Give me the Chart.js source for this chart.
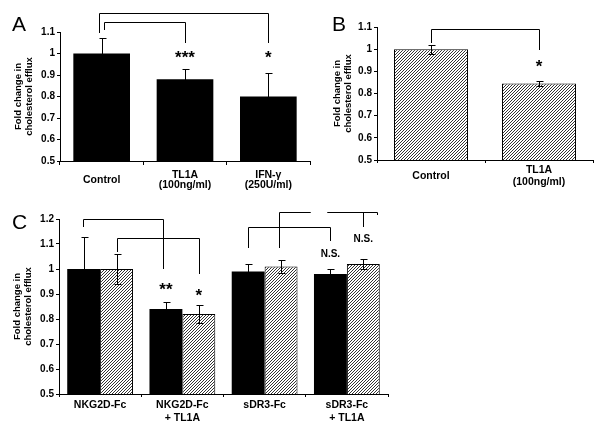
<!DOCTYPE html>
<html>
<head>
<meta charset="utf-8">
<script src="https://cdn.jsdelivr.net/npm/chart.js@4.4.0/dist/chart.umd.min.js"></script>
<style>
  body { margin: 0; background: #fff; }
  #wrap { position: relative; width: 600px; height: 427px; overflow: hidden; }
  canvas { position: absolute; }
  .panel { position: absolute; font: 21px "Liberation Sans", Arial, sans-serif; line-height: 21px; color: #000; }
</style>
</head>
<body>
<div id="wrap">
  <canvas id="chartA" width="320" height="200" style="left:0;top:0"></canvas>
  <canvas id="chartB" width="300" height="200" style="left:300px;top:0"></canvas>
  <canvas id="chartC" width="400" height="227" style="left:0;top:200px"></canvas>
  <div class="panel" style="left:12px;top:13px">A</div>
  <div class="panel" style="left:332px;top:13px">B</div>
  <div class="panel" style="left:12px;top:211px">C</div>
</div>
<script>
// Panel A
const aLabels = ['Control', ['TL1A', '(100ng/ml)'], ['IFN-γ', '(250U/ml)']];
const aValues = [1.0, 0.88, 0.80];
const aErrors = [0.07, 0.05, 0.11];

// Panel B
const bLabels = ['Control', ['TL1A', '(100ng/ml)']];
const bValues = [1.0, 0.845];
const bErrors = [0.02, 0.01];

// Panel C (black = solid bars, hatch = striped bars)
const cLabels = ['NKG2D-Fc', ['NKG2D-Fc', '+ TL1A'], 'sDR3-Fc', ['sDR3-Fc', '+ TL1A']];
const cBlack = [1.0, 0.84, 0.99, 0.98];
const cBlackErr = [0.13, 0.03, 0.03, 0.02];
const cHatch = [1.0, 0.82, 1.01, 1.02];
const cHatchErr = [0.06, 0.035, 0.025, 0.02];

const yTitle = ['Fold change in', 'cholesterol efflux'];

// significance brackets, y in data units; anchors are bars {ds, i} or category positions {cat}
const aBrackets = [
    { a: { ds: 0, i: 0, dx: -3 }, b: { ds: 0, i: 2 }, top: 1.19, aEnd: 1.095, bEnd: 1.05 },
    { a: { ds: 0, i: 0, dx: 2 }, b: { ds: 0, i: 1 }, top: 1.145, aEnd: 1.11, bEnd: 1.05 }
];
const aStars = [
    { at: { ds: 0, i: 1 }, y: 1.0, text: '***' },
    { at: { ds: 0, i: 2 }, y: 1.0, text: '*' }
];
const bBrackets = [
    { a: { ds: 0, i: 0 }, b: { ds: 0, i: 1 }, top: 1.09, aEnd: 1.027, bEnd: 0.995 }
];
const bStars = [{ at: { ds: 0, i: 1 }, y: 0.94, text: '*' }];
const cBrackets = [
    { a: { ds: 0, i: 0, dx: -1 }, b: { ds: 0, i: 1, dx: -3 }, top: 1.2, aEnd: 1.168, bEnd: 1.0 },
    { a: { ds: 1, i: 0 }, b: { ds: 1, i: 1 }, top: 1.124, aEnd: 1.068, bEnd: 0.98 },
    { a: { ds: 0, i: 2 }, b: { ds: 0, i: 3 }, top: 1.168, aEnd: 1.084, bEnd: 1.112 },
    { a: { ds: 1, i: 2, dx: -2 }, b: { cat: 2.553 }, top: 1.228, aEnd: 1.084, bEnd: 1.228 },
    { a: { cat: 2.76 }, b: { cat: 3.37 }, top: 1.228, aEnd: 1.228, bEnd: 1.216 },
    { a: { ds: 1, i: 3 }, b: { ds: 1, i: 3 }, top: 1.228, aEnd: 1.228, bEnd: 1.168 }
];
const cStars = [
    { at: { ds: 0, i: 1 }, y: 0.936, text: '**' },
    { at: { ds: 1, i: 1 }, y: 0.912, text: '*' },
    { at: { ds: 0, i: 3 }, y: 1.064, text: 'N.S.', small: true },
    { at: { ds: 1, i: 3 }, y: 1.124, text: 'N.S.', small: true }
];

const FONT = '"Liberation Sans", Arial, sans-serif';

function hatchPattern() {
    const c = document.createElement('canvas');
    c.width = 3; c.height = 3;
    const g = c.getContext('2d');
    g.fillStyle = '#fff';
    g.fillRect(0, 0, 3, 3);
    g.strokeStyle = '#333';
    g.lineWidth = 1;
    g.beginPath();
    g.moveTo(-1, 4); g.lineTo(4, -1);
    g.moveTo(-1, 1); g.lineTo(1, -1);
    g.moveTo(2, 4); g.lineTo(4, 2);
    g.stroke();
    return g.createPattern(c, 'repeat');
}
const hatch = hatchPattern();

function anchorX(chart, p) {
    if (p.cat !== undefined) return chart.scales.x.getPixelForValue(p.cat);
    return chart.getDatasetMeta(p.ds).data[p.i].x + (p.dx || 0);
}

// error bars, brackets and asterisks
const marks = {
    id: 'marks',
    afterDatasetsDraw(chart, args, opts) {
        const ctx = chart.ctx;
        const y = chart.scales.y;
        ctx.save();
        ctx.strokeStyle = '#000';
        ctx.lineWidth = 1;
        chart.data.datasets.forEach((ds, di) => {
            const meta = chart.getDatasetMeta(di);
            meta.data.forEach((bar, i) => {
                const x = Math.round(bar.x) + 0.5;
                const v = ds.data[i], e = ds.errors[i];
                const y1 = Math.round(y.getPixelForValue(v + e)) + 0.5;
                const y2 = Math.round(y.getPixelForValue(v - e)) + 0.5;
                ctx.beginPath();
                ctx.moveTo(x, y1); ctx.lineTo(x, y2);
                ctx.moveTo(x - 3, y1); ctx.lineTo(x + 4, y1);
                ctx.moveTo(x - 3, y2); ctx.lineTo(x + 4, y2);
                ctx.stroke();
            });
        });
        (opts.brackets || []).forEach(b => {
            const xa = Math.round(anchorX(chart, b.a)) + 0.5;
            const xb = Math.round(anchorX(chart, b.b)) + 0.5;
            const yt = Math.round(y.getPixelForValue(b.top)) + 0.5;
            ctx.beginPath();
            ctx.moveTo(xa, Math.round(y.getPixelForValue(b.aEnd)));
            ctx.lineTo(xa, yt);
            ctx.lineTo(xb, yt);
            ctx.lineTo(xb, Math.round(y.getPixelForValue(b.bEnd)));
            ctx.stroke();
        });
        ctx.fillStyle = '#000';
        ctx.textAlign = 'center';
        ctx.textBaseline = 'alphabetic';
        (opts.stars || []).forEach(s => {
            const x = anchorX(chart, s.at);
            const py = y.getPixelForValue(s.y);
            if (s.small) {
                ctx.font = 'bold 10px ' + FONT;
                ctx.fillText(s.text, x, py + 3.6);
            } else {
                ctx.font = 'bold 17px ' + FONT;
                ctx.fillText(s.text, x, py + 9.5);
            }
        });
        ctx.restore();
    }
};

function makeChart(id, cfg) {
    return new Chart(document.getElementById(id), {
        type: 'bar',
        data: { labels: cfg.labels, datasets: cfg.datasets },
        plugins: [marks],
        options: {
            responsive: false,
            animation: false,
            devicePixelRatio: 1,
            layout: { padding: cfg.padding },
            plugins: {
                legend: { display: false },
                tooltip: { enabled: false },
                marks: { brackets: cfg.brackets, stars: cfg.stars }
            },
            scales: {
                x: {
                    grid: { display: true, drawOnChartArea: false, color: '#000', tickColor: '#000', tickLength: cfg.xTick },
                    border: { display: true, color: '#000', width: 1 },
                    ticks: {
                        color: '#000', padding: cfg.xPad, crossAlign: cfg.xAlign, maxRotation: 0, autoSkip: false,
                        font: { family: FONT, size: 10.5, weight: 'bold', lineHeight: cfg.xLine }
                    },
                    afterFit: s => { s.height = cfg.xHeight; }
                },
                y: {
                    min: cfg.min, max: cfg.max,
                    grid: { display: true, drawOnChartArea: false, color: '#000', tickColor: '#000', tickLength: 3 },
                    border: { display: true, color: '#000', width: 1 },
                    ticks: {
                        stepSize: 0.1, color: '#000', padding: 2,
                        font: { family: FONT, size: 10, weight: 'bold' },
                        callback: v => String(+v.toFixed(1))
                    },
                    title: {
                        display: true, text: yTitle, color: '#000',
                        padding: { top: cfg.titlePad, bottom: 0 },
                        font: { family: FONT, size: 9.5, weight: 'bold', lineHeight: 1.2 }
                    },
                    afterFit: s => { s.width = cfg.yWidth; }
                }
            }
        }
    });
}

makeChart('chartA', {
    labels: aLabels,
    datasets: [{ data: aValues, errors: aErrors, backgroundColor: '#000', borderWidth: 0, barPercentage: 0.68, categoryPercentage: 1 }],
    padding: { left: 0, top: 32, right: 10, bottom: 0 },
    min: 0.5, max: 1.1, yWidth: 60, xHeight: 39, titlePad: 12.3,
    xTick: 4, xPad: 10, xAlign: 'center', xLine: 1.0,
    brackets: aBrackets, stars: aStars
});

makeChart('chartB', {
    labels: bLabels,
    datasets: [{ data: bValues, errors: bErrors, backgroundColor: hatch, borderColor: '#000', borderWidth: 1, barPercentage: 0.685, categoryPercentage: 1 }],
    padding: { left: 0, top: 27, right: 7, bottom: 0 },
    min: 0.5, max: 1.1, yWidth: 77, xHeight: 40, titlePad: 31.3,
    xTick: 3, xPad: 7, xAlign: 'center', xLine: 1.2,
    brackets: bBrackets, stars: bStars
});

makeChart('chartC', {
    labels: cLabels,
    datasets: [
        { data: cBlack, errors: cBlackErr, backgroundColor: '#000', borderWidth: 0, barPercentage: 1, categoryPercentage: 0.8 },
        { data: cHatch, errors: cHatchErr, backgroundColor: hatch, borderColor: '#000', borderWidth: 1, barPercentage: 1, categoryPercentage: 0.8 }
    ],
    padding: { left: 0, top: 19, right: 12, bottom: 0 },
    min: 0.5, max: 1.2, yWidth: 59, xHeight: 33, titlePad: 11.3,
    xTick: 3, xPad: 2, xAlign: 'near', xLine: 1.2,
    brackets: cBrackets, stars: cStars
});
</script>
</body>
</html>
